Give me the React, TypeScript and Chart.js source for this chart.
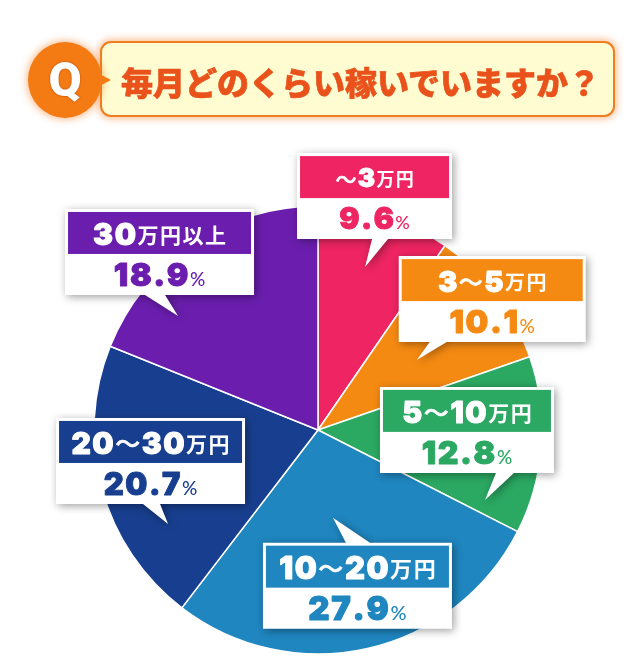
import React, { useEffect, useRef } from 'react';
import { Chart, registerables } from 'chart.js';

Chart.register(...registerables);

// ---- data ----
const categories = ['～3万円', '3～5万円', '5～10万円', '10～20万円', '20～30万円', '30万円以上'];
const shares = [9.6, 10.1, 12.8, 27.9, 20.7, 18.9];
const sliceColors = ['#EE2562', '#F58A12', '#2BA862', '#1F86BF', '#183F8F', '#6B1EAE'];
const titleText = '毎月どのくらい稼いでいますか？';
const qMark = 'Q';

// ---- callout layout (tail tip placed inside each arc: fraction along the arc, fraction of radius) ----
const calloutLayout = [
  { along: 0.466, depth: 0.757, dx: -68, dy: -114, w: 155, t0: 75, t1: 91, head: 26, pct: 30 },
  { along: 0.554, depth: 0.54, dx: -18, dy: -104, w: 187, t0: 31, t1: 48, head: 29, pct: 32 },
  { along: 0.907, depth: 0.808, dx: -105, dy: -113, w: 174, t0: 116, t1: 134, head: 30, pct: 32 },
  { along: 0.531, depth: 0.397, dx: -70, dy: 25, w: 189, t0: 83, t1: 107, head: 31, pct: 33 },
  { along: 0.275, depth: 0.79, dx: -112, dy: -106, w: 189, t0: 87, t1: 104, head: 30, pct: 31 },
  { along: 0.253, depth: 0.806, dx: -113, dy: -107, w: 189, t0: 80, t1: 100, head: 30, pct: 32 },
];
const BOX_H = 86;
const HEAD_H = 45;
const INSET = 3;

type Run = { t: string; kind: 'num' | 'tilde' | 'cjk' | 'pct' };

function splitRuns(s: string): Run[] {
  const out: Run[] = [];
  for (const ch of s) {
    let kind: Run['kind'] = 'cjk';
    if (/[0-9.]/.test(ch)) kind = 'num';
    else if (ch === '～') kind = 'tilde';
    else if (ch === '%') kind = 'pct';
    out.push({ t: ch, kind });
  }
  return out;
}

function fontFor(kind: Run['kind'], size: number) {
  if (kind === 'num') return `900 ${size}px Inter, Lato, "DejaVu Sans", sans-serif`;
  if (kind === 'tilde') return `500 ${Math.round(size * 0.82)}px "Noto Sans CJK JP", sans-serif`;
  if (kind === 'pct') return `500 ${Math.round(size * 0.6)}px Lato, sans-serif`;
  return `700 ${Math.round(size * 0.7)}px "Noto Sans CJK JP", sans-serif`;
}

function drawRuns(ctx: CanvasRenderingContext2D, runs: Run[], size: number, cx: number, baseline: number, color: string) {
  const gap = size * 0.05;
  const items = runs.map((r) => {
    ctx.font = fontFor(r.kind, size);
    return { ...r, w: ctx.measureText(r.t).width };
  });
  const total = items.reduce((s, it) => s + it.w, 0) + gap * (items.length - 1);
  let x = cx - total / 2;
  ctx.fillStyle = color;
  ctx.strokeStyle = color;
  ctx.lineJoin = 'round';
  ctx.textAlign = 'left';
  ctx.textBaseline = 'alphabetic';
  for (const it of items) {
    ctx.font = fontFor(it.kind, size);
    let yOff = 0;
    if (it.kind === 'cjk') yOff = -size * 0.7 * 0.07;
    if (it.kind === 'tilde') yOff = -size * 0.03;
    ctx.fillText(it.t, x, baseline + yOff);
    if (it.kind === 'num') {
      ctx.lineWidth = size * 0.03;
      ctx.strokeText(it.t, x, baseline + yOff);
    } else if (it.kind === 'tilde') {
      ctx.lineWidth = size * 0.02;
      ctx.strokeText(it.t, x, baseline + yOff);
    }
    x += it.w + gap;
  }
}

const calloutPlugin = {
  id: 'calloutBoxes',
  afterDatasetsDraw(chart: any) {
    const ctx: CanvasRenderingContext2D = chart.ctx;
    const meta = chart.getDatasetMeta(0);
    meta.data.forEach((arc: any, i: number) => {
      const L = calloutLayout[i];
      if (!L) return;
      const { x, y, startAngle, endAngle, outerRadius } = arc.getProps(
        ['x', 'y', 'startAngle', 'endAngle', 'outerRadius'],
        true
      );
      const a = startAngle + L.along * (endAngle - startAngle);
      const tipX = x + Math.cos(a) * outerRadius * L.depth;
      const tipY = y + Math.sin(a) * outerRadius * L.depth;
      const left = tipX + L.dx;
      const top = tipY + L.dy;
      const right = left + L.w;
      const bottom = top + BOX_H;
      const color = sliceColors[i];

      // white speech box with tail
      ctx.save();
      ctx.beginPath();
      if (L.dy < 0) {
        ctx.moveTo(left, top);
        ctx.lineTo(right, top);
        ctx.lineTo(right, bottom);
        ctx.lineTo(left + L.t1, bottom);
        ctx.lineTo(tipX, tipY);
        ctx.lineTo(left + L.t0, bottom);
        ctx.lineTo(left, bottom);
      } else {
        ctx.moveTo(left, top);
        ctx.lineTo(left + L.t0, top);
        ctx.lineTo(tipX, tipY);
        ctx.lineTo(left + L.t1, top);
        ctx.lineTo(right, top);
        ctx.lineTo(right, bottom);
        ctx.lineTo(left, bottom);
      }
      ctx.closePath();
      ctx.shadowColor = 'rgba(0,0,0,0.38)';
      ctx.shadowBlur = 8;
      ctx.shadowOffsetX = 2;
      ctx.shadowOffsetY = 2;
      ctx.fillStyle = '#ffffff';
      ctx.fill();
      ctx.restore();

      // coloured header
      ctx.fillStyle = color;
      ctx.fillRect(left + INSET, top + INSET, L.w - INSET * 2, HEAD_H - INSET);

      const cx = left + L.w / 2;
      const headBase = top + INSET + (HEAD_H - INSET) / 2 + L.head * 0.36 + 1;
      drawRuns(ctx, splitRuns(categories[i]), L.head, cx, headBase, '#ffffff');

      const pctCenter = top + HEAD_H + (BOX_H - HEAD_H) / 2;
      const pctBase = pctCenter + L.pct * 0.36;
      drawRuns(ctx, splitRuns(shares[i].toFixed(1) + '%'), L.pct, cx, pctBase, color);
    });
  },
};

export default function App() {
  const canvasRef = useRef<HTMLCanvasElement | null>(null);

  useEffect(() => {
    const canvas = canvasRef.current;
    if (!canvas) return;
    const chart = new Chart(canvas, {
      type: 'pie',
      data: {
        labels: categories,
        datasets: [
          {
            data: shares,
            backgroundColor: sliceColors,
            borderColor: '#ffffff',
            borderWidth: 1.5,
            radius: 224,
          } as any,
        ],
      },
      options: {
        responsive: false,
        animation: false,
        layout: { padding: { left: 94, right: 87, top: 206, bottom: 16 } },
        plugins: {
          legend: { display: false },
          tooltip: { enabled: false },
        },
      },
      plugins: [calloutPlugin],
    });
    return () => chart.destroy();
  }, []);

  return (
    <div
      style={{
        position: 'absolute',
        left: 0,
        top: 0,
        width: 629,
        height: 670,
        background: '#ffffff',
        overflow: 'hidden',
      }}
    >
      <canvas ref={canvasRef} width={629} height={670} style={{ position: 'absolute', left: 0, top: 0, width: 629, height: 670 }} />
      {/* banner box */}
      <div
        style={{
          position: 'absolute',
          left: 100,
          top: 41,
          width: 515,
          height: 76,
          boxSizing: 'border-box',
          border: '2px solid #EF7D22',
          borderRadius: 11,
          background: '#FFFCD2',
          boxShadow: '0 0 7px 2px rgba(244,122,30,0.45)',
        }}
      />
      <div
        style={{
          position: 'absolute',
          left: 121,
          top: 61,
          height: 40,
          lineHeight: '40px',
          fontFamily: '"Noto Sans CJK JP", sans-serif',
          fontWeight: 900,
          fontSize: 32,
          color: '#E9521B',
          whiteSpace: 'nowrap',
          WebkitTextStroke: '0.6px #E9521B',
        }}
      >
        {titleText}
      </div>
      {/* Q bubble */}
      <div
        style={{
          position: 'absolute',
          left: 94,
          top: 71,
          width: 0,
          height: 0,
          borderTop: '9px solid transparent',
          borderBottom: '9px solid transparent',
          borderLeft: '17px solid #F47A14',
        }}
      />
      <div
        style={{
          position: 'absolute',
          left: 28,
          top: 42,
          width: 74,
          height: 76,
          borderRadius: '50%',
          background: '#F47A14',
          boxShadow: '0 0 7px 2px rgba(244,122,30,0.45)',
          color: '#ffffff',
          fontFamily: 'Roboto, "Liberation Sans", sans-serif',
          fontWeight: 900,
          fontSize: 48,
          lineHeight: '76px',
          textAlign: 'center',
          textShadow: '0 0 2px #B85000, 0 0 1px #B85000',
        }}
      >
        {qMark}
      </div>
    </div>
  );
}
